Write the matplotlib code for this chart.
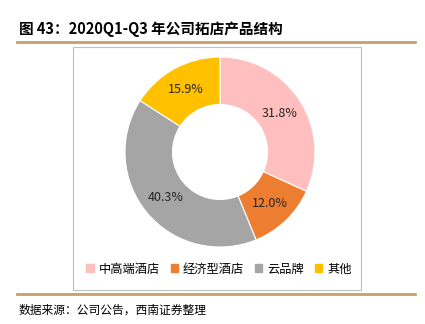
import matplotlib
matplotlib.use("Agg")
import matplotlib.pyplot as plt
from matplotlib.patches import Rectangle
from matplotlib.lines import Line2D

plt.rcParams['font.family'] = ['Noto Sans CJK SC', 'DejaVu Sans']

# data
labels = ['中高端酒店', '经济型酒店', '云品牌', '其他']
shares = [31.8, 12.0, 40.3, 15.9]
colors = ['#FFBFBF', '#ED7D31', '#A5A5A5', '#FFC000']

W, H = 425, 324
fig = plt.figure(figsize=(W / 100, H / 100), dpi=100)

def fx(x):
    return x / W

def fy(y):
    return 1 - y / H

# title + gold rules
fig.text(fx(19), fy(29), '图 43：2020Q1-Q3 年公司拓店产品结构', fontsize=10.5,
         fontweight='bold', va='center', ha='left')
gold = '#C9A063'
fig.add_artist(Line2D([fx(17), fx(415)], [fy(42), fy(42)], color=gold, lw=2))
fig.add_artist(Line2D([fx(17), fx(415)], [fy(294), fy(294)], color=gold, lw=2))

# chart frame
fig.add_artist(Rectangle((fx(73), fy(290)), fx(361) - fx(73), fy(47) - fy(290),
                         fill=False, edgecolor='#BFBFBF', lw=0.8))

# donut
r = 95
cx, cy = 220, 152
ax = fig.add_axes([fx(cx - r), fy(cy + r), 2 * r / W, 2 * r / H])
wedges, texts, autotexts = ax.pie(
    shares, colors=colors, startangle=90, counterclock=False,
    autopct=lambda p: '', pctdistance=0.75,
    wedgeprops=dict(width=0.5, edgecolor='white', linewidth=0.8))
for t, v in zip(autotexts, shares):
    t.set_text(f'{v:.1f}%')
    t.set_fontsize(9)
    t.set_color('#262626')
ax.set_xlim(-1, 1)
ax.set_ylim(-1, 1)
ax.set_aspect('equal')

# legend
handles = [Rectangle((0, 0), 1, 1, color=c) for c in colors]
fig.legend(handles, labels, loc='center', bbox_to_anchor=(fx(219), fy(269)),
           ncol=4, frameon=False, fontsize=8.8, handlelength=0.6, handleheight=0.6,
           handletextpad=0.4, columnspacing=0.9)

# source
fig.text(fx(19), fy(310), '数据来源：公司公告，西南证券整理', fontsize=8.5,
         style='italic', va='center', ha='left')

fig.savefig('out.png', dpi=100)
